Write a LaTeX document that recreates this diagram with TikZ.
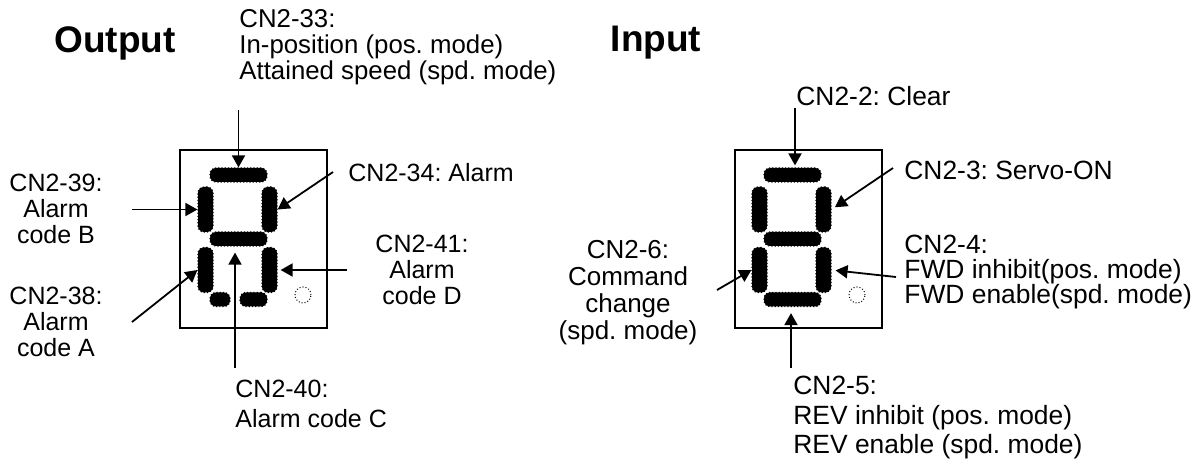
\documentclass[tikz,border=0pt]{standalone}
\usepackage{fontspec}
\setmainfont{Liberation Sans}
\usetikzlibrary{positioning,arrows.meta}
\frenchspacing

\begin{document}
\begin{tikzpicture}[x=0.5pt, y=-0.5pt,
    seg/.style={draw=black, fill=black, densely dotted, line width=0.6pt, rounded corners=3pt, inner sep=0},
    hseg/.style={seg, minimum width=28.5pt, minimum height=7pt},
    vseg/.style={seg, minimum width=7.5pt, minimum height=22.5pt},
    decpoint/.style={circle, draw, densely dotted, line width=0.5pt, minimum size=8pt, inner sep=0},
    dispbox/.style={draw, line width=1pt, minimum width=73.5pt, minimum height=89pt, inner sep=0},
    lbl/.style={inner sep=0, font=\fontsize{12.5}{13}\selectfont},
    headline/.style={inner sep=0, font=\fontsize{18.5}{20}\selectfont\bfseries},
    sig/.style={line width=0.9pt, -{Triangle[length=6pt, width=6.5pt]}}]
    \useasboundingbox (0,0) rectangle (1198,464);

    % Output display (Left)
    \node[headline] (outtitle) at (115,43) {Output};
    \node[dispbox] (outbox) at (253.5,239) {};
    \node[hseg] (oT) at (238.5,175) {};
    \node[vseg] (oUL) at (205.5,209.5) {};
    \node[vseg] (oUR) at (269.5,209.5) {};
    \node[hseg] (oM) at (238.5,239) {};
    \node[vseg] (oLL) at (205.5,270) {};
    \node[vseg] (oLR) at (269.5,270) {};
    \node[seg, minimum width=10pt, minimum height=7pt] (oBa) at (220,299.5) {};
    \node[seg, minimum width=13.5pt, minimum height=7pt] (oBb) at (253.5,299.5) {};
    \node[decpoint] (oDP) at (303,295) {};

    \node[lbl, anchor=west, align=left, font=\fontsize{12.9}{13}\selectfont] (cn33) at (239,47) {CN2-33:\\In-position (pos. mode)\\Attained speed (spd. mode)};
    \node[lbl, anchor=west] (cn34) at (348,173) {CN2-34: Alarm};
    \node[lbl, align=center] (cn39) at (56,209) {CN2-39:\\Alarm\\code B};
    \node[lbl, align=center] (cn38) at (56,322) {CN2-38:\\Alarm\\code A};
    \node[lbl, align=center] (cn41) at (422,270) {CN2-41:\\Alarm\\code D};
    \node[lbl, anchor=west, align=left, font=\fontsize{12.5}{15}\selectfont] (cn40) at (235,404) {CN2-40:\\Alarm code C};

    \coordinate (t33) at (238.5,110);
    \coordinate (t34) at (333,172);
    \coordinate (t39) at (132,209.5);
    \coordinate (t38) at (132,322);
    \coordinate (t41) at (347,270);
    \coordinate (t40) at (235,368);
    \draw[sig] (t33) -- (oT.north);
    \draw[sig] (t34) -- (oUR.east);
    \draw[sig] (t39) -- (oUL.west);
    \draw[sig] (t38) -- (oLL.west);
    \draw[sig, shorten >=1.5pt] (t41) -- (oLR.east);
    \draw[sig, shorten >=3pt] (t40) -- (t40 |- oM.south);

    % Input display (Right)
    \node[headline] (intitle) at (656,43) {Input};
    \node[dispbox] (inbox) at (808,239) {};
    \node[hseg] (iT) at (792.5,175) {};
    \node[vseg] (iUL) at (759.5,209.5) {};
    \node[vseg] (iUR) at (823.5,209.5) {};
    \node[hseg] (iM) at (792.5,239) {};
    \node[vseg] (iLL) at (759.5,270) {};
    \node[vseg] (iLR) at (823.5,270) {};
    \node[hseg] (iB) at (792.5,299.5) {};
    \node[decpoint] (iDP) at (857,295) {};

    \node[lbl, anchor=west, font=\fontsize{13.2}{13}\selectfont] (cn2) at (796,96) {CN2-2: Clear};
    \node[lbl, anchor=west, font=\fontsize{13.2}{13}\selectfont] (cn3) at (904,170) {CN2-3: Servo-ON};
    \node[lbl, anchor=west, align=left, font=\fontsize{13.2}{12.5}\selectfont] (cn4) at (904,272) {CN2-4:\\FWD inhibit(pos. mode)\\FWD enable(spd. mode)};
    \node[lbl, align=center, font=\fontsize{13}{13.5}\selectfont] (cn6) at (628,293) {CN2-6:\\Command\\change\\(spd. mode)};
    \node[lbl, anchor=west, align=left, font=\fontsize{13.2}{14.75}\selectfont] (cn5) at (793,418) {CN2-5:\\REV inhibit (pos. mode)\\REV enable (spd. mode)};

    \coordinate (t2) at (795,108);
    \coordinate (t3) at (893,168);
    \coordinate (t4) at (896,277);
    \coordinate (t6) at (717,290);
    \coordinate (t5) at (791,368);
    \draw[sig, shorten >=1pt] (t2) -- (t2 |- iT.north);
    \draw[sig, shorten >=2pt] (t3) -- (iUR.east);
    \draw[sig, shorten >=2pt] (t4) -- (iLR.east);
    \draw[sig] (t6) -- (iLL.west);
    \draw[sig, shorten >=3pt] (t5) -- (t5 |- iB.south);
\end{tikzpicture}
\end{document}
